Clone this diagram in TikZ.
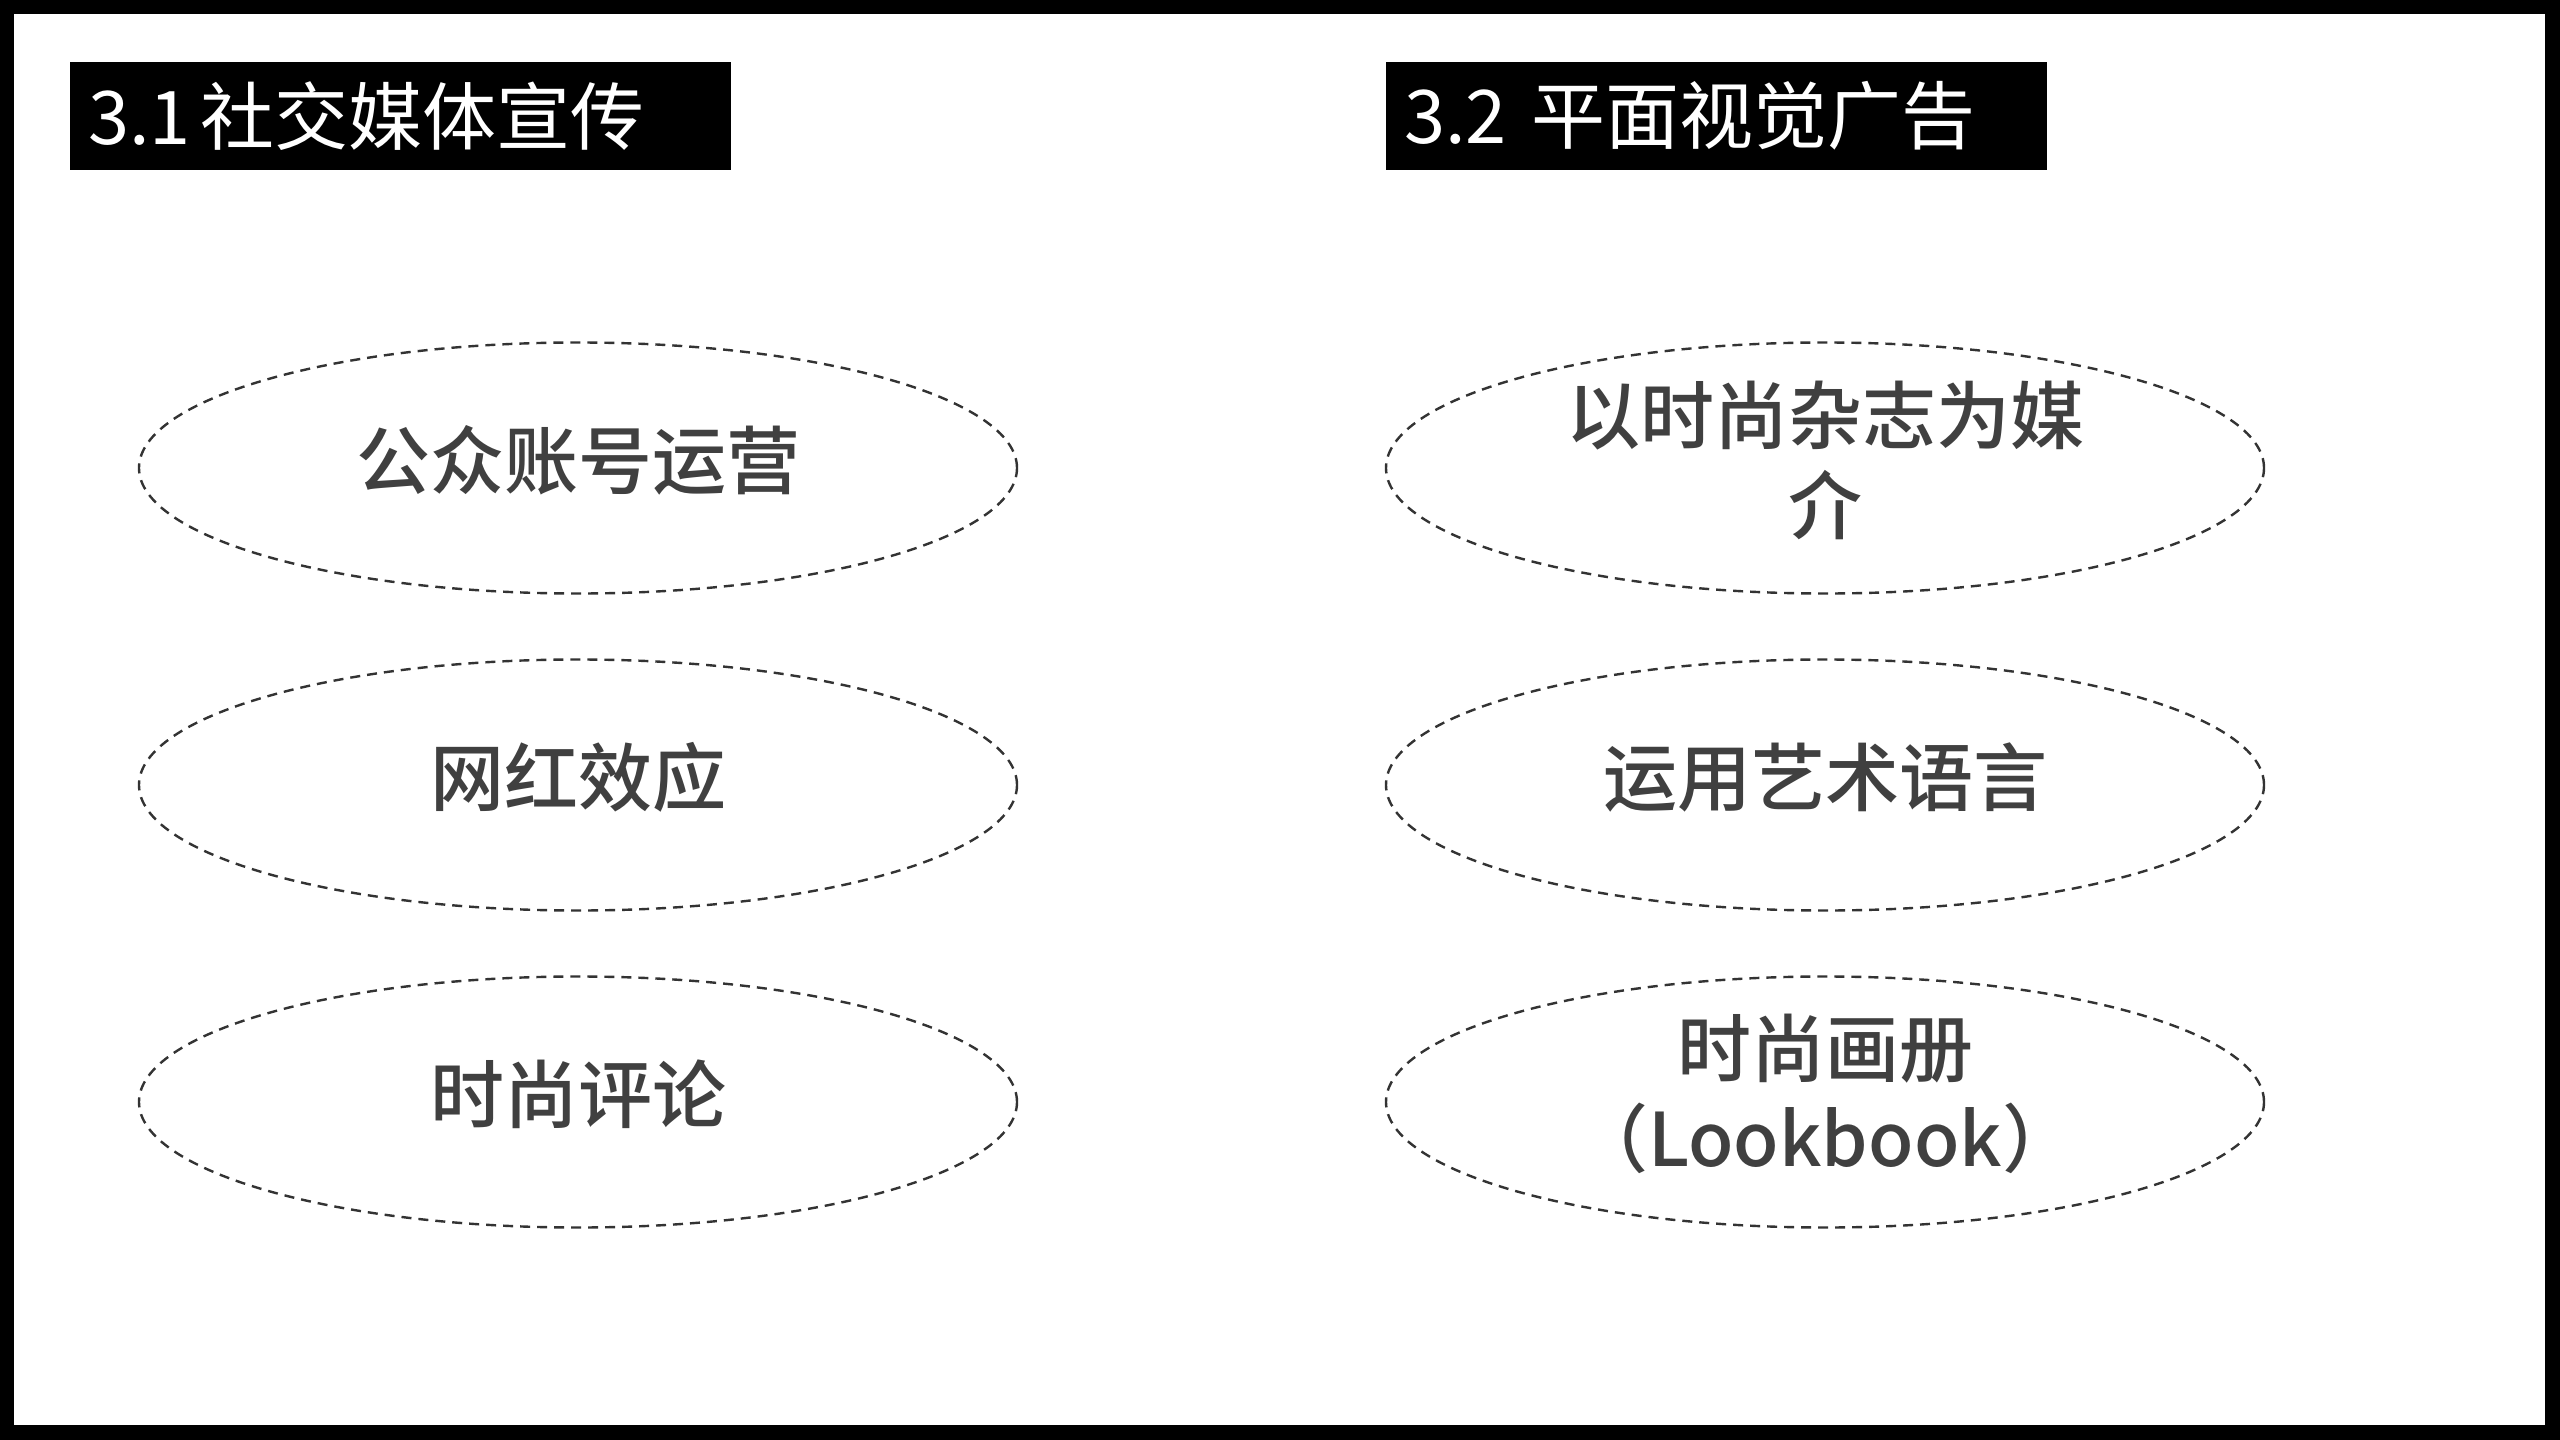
\documentclass[tikz,border=0pt]{standalone}
\usepackage{fontspec}
\newfontfamily\cjk{Noto Sans CJK SC}
\newfontfamily\cjkm{Noto Sans CJK SC}[UprightFont={* Medium}]
\usetikzlibrary{shapes.geometric}
\definecolor{txtgray}{HTML}{404040}
\definecolor{linegray}{HTML}{333333}
\tikzset{
  titlebox/.style={fill=black, text=white, anchor=north west, inner xsep=18pt, inner ysep=0pt,
    text width=625pt, minimum height=108pt, align=left,
    font=\cjk\fontsize{74}{90}\selectfont},
  oval/.style={ellipse, draw=linegray, line width=2.4pt, dash pattern=on 10pt off 7pt,
    minimum width=878pt, minimum height=251pt, inner sep=0pt},
  ovaltext/.style={inner sep=0pt, align=center, text=txtgray,
    font=\cjkm\fontsize{74}{90}\selectfont}
}
\begin{document}
\begin{tikzpicture}[x=1pt,y=-1pt]
\useasboundingbox (0,0) rectangle (2560,1440);
\fill[black] (0,0) rectangle (2560,1440);
\fill[white] (14,14) rectangle (2545,1425);
\node[titlebox] (t1) at (70,62) {3.1\hspace{10pt}社交媒体宣传};
\node[titlebox] (t2) at (1386,62) {3.2 平面视觉广告};
\node[oval] (a1) at (578,468) {};
\node[oval] (a2) at (578,785) {};
\node[oval] (a3) at (578,1102) {};
\node[oval] (b1) at (1825,468) {};
\node[oval] (b2) at (1825,785) {};
\node[oval] (b3) at (1825,1102) {};
\node[ovaltext] (a1t) at ([yshift=8pt]a1.center) {公众账号运营};
\node[ovaltext] (a2t) at ([yshift=8pt]a2.center) {网红效应};
\node[ovaltext] (a3t) at ([yshift=8pt]a3.center) {时尚评论};
\node[ovaltext] (b1t) at ([yshift=8pt]b1.center) {以时尚杂志为媒\\介};
\node[ovaltext] (b2t) at ([yshift=8pt]b2.center) {运用艺术语言};
\node[ovaltext] (b3t) at ([yshift=8pt]b3.center) {时尚画册\\（Lookbook）};
\end{tikzpicture}
\end{document}
